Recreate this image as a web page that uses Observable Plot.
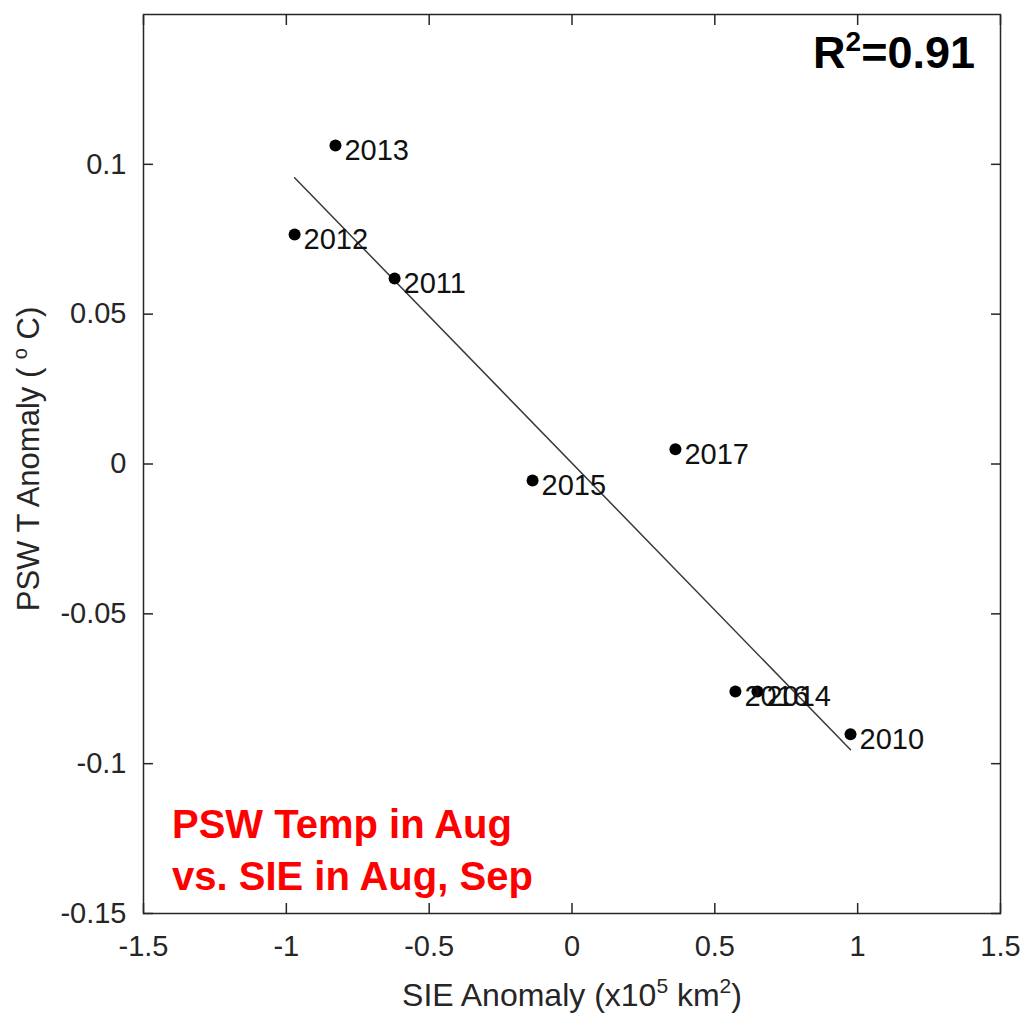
<!DOCTYPE html>
<html>
<head>
<meta charset="utf-8">
<script src="https://cdn.jsdelivr.net/npm/d3@7"></script>
<script src="https://cdn.jsdelivr.net/npm/@observablehq/plot@0.6"></script>
<style>
  html, body { margin: 0; padding: 0; background: #fff; }
  svg { display: block; }
</style>
</head>
<body>
<div id="chart"></div>
<script>
// Data
const years = ["2013", "2012", "2011", "2015", "2017", "2016", "2014", "2010"];
const sieAnomaly = [-0.828, -0.971, -0.621, -0.138, 0.362, 0.572, 0.649, 0.975];
const pswAnomaly = [0.1063, 0.0766, 0.0619, -0.0055, 0.0049, -0.0759, -0.0759, -0.0902];
const xTicks = [-1.5, -1, -0.5, 0, 0.5, 1, 1.5];
const yTicks = [-0.15, -0.1, -0.05, 0, 0.05, 0.1];

const data = years.map((year, i) => ({year, x: sieAnomaly[i], y: pswAnomaly[i]}));

const axisColor = "#262626";
const fontFamily = "'Liberation Sans', Arial, Helvetica, sans-serif";
const fmt = d => String(d);

const chart = Plot.plot({
  width: 1029,
  height: 1015,
  marginLeft: 143,
  marginRight: 29,
  marginTop: 14,
  marginBottom: 102,
  style: {fontFamily, background: "white", overflow: "visible"},
  x: {domain: [-1.5, 1.5]},
  y: {domain: [-0.15, 0.15]},
  marks: [
    Plot.axisX({ticks: xTicks, tickSize: -10, tickPadding: 32, tickFormat: fmt, fontSize: 29, label: null, color: axisColor, strokeWidth: 1.5}),
    Plot.axisX({anchor: "top", ticks: xTicks, tickSize: -10, fill: "none", label: null, stroke: axisColor, strokeWidth: 1.5}),
    Plot.axisY({ticks: yTicks, tickSize: -10, tickPadding: 27, tickFormat: fmt, fontSize: 29, label: null, color: axisColor, strokeWidth: 1.5}),
    Plot.axisY({anchor: "right", ticks: yTicks, tickSize: -10, fill: "none", label: null, stroke: axisColor, strokeWidth: 1.5}),
    Plot.frame({stroke: axisColor, strokeWidth: 1.5}),
    Plot.linearRegressionY(data, {x: "x", y: "y", stroke: "#3a3a3a", strokeWidth: 1.5, ci: 0}),
    Plot.dot(data, {x: "x", y: "y", r: 6, fill: "black"}),
    Plot.text(data, {x: "x", y: "y", text: "year", textAnchor: "start", dx: 9, dy: 5, fontSize: 29, fill: "#111"})
  ]
});

document.getElementById("chart").appendChild(chart);

const svg = d3.select(chart);

// X axis label with superscripts
const xl = svg.append("text")
  .attr("x", 572).attr("y", 1006)
  .attr("text-anchor", "middle")
  .attr("font-size", 32).attr("fill", axisColor)
  .attr("font-family", fontFamily);
xl.append("tspan").text("SIE Anomaly (x10");
xl.append("tspan").attr("font-size", 21).attr("dy", -13).text("5");
xl.append("tspan").attr("dy", 13).text(" km");
xl.append("tspan").attr("font-size", 21).attr("dy", -13).text("2");
xl.append("tspan").attr("dy", 13).text(")");

// Y axis label with superscript degree
const yl = svg.append("text")
  .attr("transform", "translate(39,459) rotate(-90)")
  .attr("text-anchor", "middle")
  .attr("font-size", 31).attr("fill", axisColor)
  .attr("font-family", fontFamily);
yl.append("tspan").text("PSW T Anomaly ( ");
yl.append("tspan").attr("font-size", 20).attr("dy", -12).text("o");
yl.append("tspan").attr("dy", 12).text(" C)");

// R^2 annotation
const r2 = svg.append("text")
  .attr("x", 975).attr("y", 68)
  .attr("text-anchor", "end")
  .attr("font-size", 45).attr("font-weight", "bold").attr("fill", "black")
  .attr("font-family", fontFamily);
r2.append("tspan").text("R");
r2.append("tspan").attr("font-size", 28).attr("dy", -17).text("2");
r2.append("tspan").attr("dy", 17).text("=0.91");

// Red annotation
const note = svg.append("text")
  .attr("text-anchor", "start")
  .attr("font-size", 40).attr("font-weight", "bold").attr("fill", "#ff0000")
  .attr("font-family", fontFamily);
note.append("tspan").attr("x", 172).attr("y", 838).text("PSW Temp in Aug");
note.append("tspan").attr("x", 172).attr("y", 890).text("vs. SIE in Aug, Sep");
</script>
</body>
</html>
